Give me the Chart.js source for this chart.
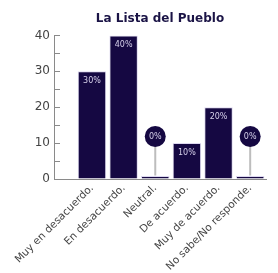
<!DOCTYPE html>
<html>
<head>
<meta charset="utf-8">
<script src="https://cdn.jsdelivr.net/npm/chart.js@4/dist/chart.umd.min.js"></script>
<style>
  html, body { margin: 0; padding: 0; background: #fff; }
  #wrap { width: 278px; height: 273px; }
</style>
</head>
<body>
<div id="wrap"><canvas id="c"></canvas></div>
<script>
// data
var categories = ["Muy en desacuerdo.", "En desacuerdo.", "Neutral.", "De acuerdo.", "Muy de acuerdo.", "No sabe/No responde."];
var values = [30, 40, 0, 10, 20, 0];
var yTicks = [0, 10, 20, 30, 40];

var barColor = "#150842";
var fontFam = "'DejaVu Sans', sans-serif";

// % labels, and a lollipop marker for the empty bars
var barLabels = {
  id: 'barLabels',
  afterDatasetsDraw: function(chart) {
    var ctx = chart.ctx;
    var meta = chart.getDatasetMeta(0);
    ctx.save();
    ctx.textAlign = 'center';
    ctx.textBaseline = 'middle';
    ctx.font = "8px " + fontFam;
    meta.data.forEach(function(bar, i) {
      var v = values[i];
      if (v > 0) {
        ctx.fillStyle = '#d6d0ea';
        ctx.fillText(v + '%', bar.x, bar.y + 10);
      } else {
        var cy = bar.base - 42;
        ctx.strokeStyle = '#bdbdbd';
        ctx.lineWidth = 2;
        ctx.beginPath();
        ctx.moveTo(bar.x, bar.base - 3);
        ctx.lineTo(bar.x, cy);
        ctx.stroke();
        ctx.fillStyle = barColor;
        ctx.beginPath();
        ctx.arc(bar.x, cy, 10.5, 0, Math.PI * 2);
        ctx.fill();
        ctx.fillStyle = '#d6d0ea';
        ctx.fillText('0%', bar.x, cy);
      }
    });
    ctx.restore();
  }
};

var ctx = document.getElementById('c').getContext('2d');
var chart = new Chart(ctx, {
  type: 'bar',
  data: {
    datasets: [{
      data: values.map(function(v, i) { return { x: i, y: v }; }),
      backgroundColor: barColor,
      borderColor: '#ddd8ef',
      borderWidth: 1,
      minBarLength: 3,
      barPercentage: 0.9,
      categoryPercentage: 1
    }]
  },
  options: {
    responsive: true,
    maintainAspectRatio: false,
    animation: false,
    layout: { padding: { top: 8, right: 12, bottom: 0, left: 0 } },
    plugins: {
      legend: { display: false },
      tooltip: { enabled: false },
      title: {
        display: true,
        text: 'La Lista del Pueblo',
        fullSize: false,
        color: '#1b1446',
        font: { family: fontFam, size: 12, weight: 'bold' },
        padding: { top: 4, bottom: 9 }
      }
    },
    scales: {
      x: {
        type: 'linear',
        offset: false,
        min: -1.2,
        max: 5.5,
        afterBuildTicks: function(scale) {
          scale.ticks = categories.map(function(c, i) { return { value: i }; });
        },
        afterFit: function(scale) {
          scale.paddingLeft = 0;
          scale.paddingRight = 0;
          scale.height = 94;
        },
        ticks: {
          autoSkip: false,
          minRotation: 45,
          maxRotation: 45,
          padding: 3,
          color: '#444',
          font: { family: fontFam, size: 10.5 },
          callback: function(v) { return categories[v]; }
        },
        grid: { offset: false, drawOnChartArea: false, drawTicks: false },
        border: { color: '#8a8a8a', width: 1 }
      },
      y: {
        min: 0,
        max: 40,
        afterFit: function(scale) { scale.width = 54; },
        afterBuildTicks: function(scale) {
          var t = [];
          for (var k = 0; k < yTicks.length; k++) {
            t.push({ value: yTicks[k] });
            if (k < yTicks.length - 1) t.push({ value: (yTicks[k] + yTicks[k + 1]) / 2 });
          }
          scale.ticks = t;
        },
        ticks: {
          padding: 10,
          color: '#444',
          font: { family: fontFam, size: 12 },
          callback: function(v) { return yTicks.indexOf(v) >= 0 ? v : ''; }
        },
        grid: { drawOnChartArea: false, tickLength: -6, color: '#8a8a8a' },
        border: { color: '#8a8a8a', width: 1 }
      }
    }
  },
  plugins: [barLabels]
});
</script>
</body>
</html>
